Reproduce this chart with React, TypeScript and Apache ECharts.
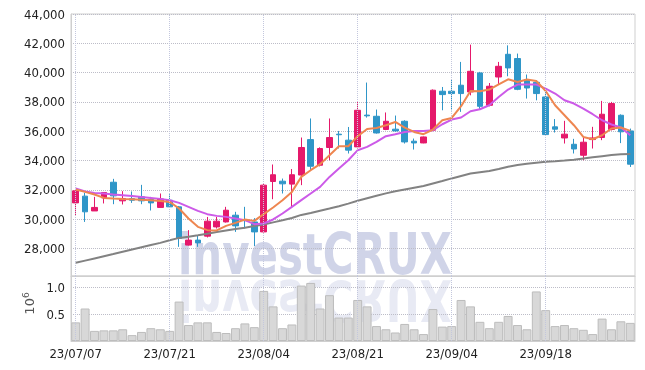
import React, { useEffect, useRef } from "react";
import * as echarts from "echarts";

const dates = [
  "23/07/07", "23/07/10", "23/07/11", "23/07/12", "23/07/13", "23/07/14", "23/07/17", "23/07/18", "23/07/19", "23/07/20",
  "23/07/21", "23/07/24", "23/07/25", "23/07/26", "23/07/27", "23/07/28", "23/07/31", "23/08/01", "23/08/02", "23/08/03",
  "23/08/04", "23/08/07", "23/08/08", "23/08/09", "23/08/10", "23/08/11", "23/08/14", "23/08/16", "23/08/17", "23/08/18",
  "23/08/21", "23/08/22", "23/08/23", "23/08/24", "23/08/25", "23/08/28", "23/08/29", "23/08/30", "23/08/31", "23/09/01",
  "23/09/04", "23/09/05", "23/09/06", "23/09/07", "23/09/08", "23/09/11", "23/09/12", "23/09/13", "23/09/14", "23/09/15",
  "23/09/18", "23/09/19", "23/09/20", "23/09/21", "23/09/22", "23/09/25", "23/09/26", "23/09/27", "23/10/04", "23/10/05",
];

const opens = [
  31110, 31570, 30560, 31450, 32520, 31250, 31400, 31520, 31340, 30800,
  31290, 30840, 28230, 28570, 28840, 29470, 29810, 30270, 29950, 29810,
  29130, 32570, 32590, 32390, 33010, 35430, 33680, 34890, 35800, 35390,
  34930, 37100, 37020, 36120, 36140, 36680, 35320, 35200, 36070, 38730,
  38730, 39140, 38680, 39980, 37770, 39700, 41250, 40960, 39530, 39340,
  38340, 36300, 35540, 35110, 34360, 35430, 35570, 36120, 37090, 36020,
];
const closes = [
  31930, 30500, 30800, 31820, 31590, 31410, 31290, 31250, 31110, 31380,
  30840, 28680, 28570, 28380, 29860, 29860, 30610, 29540, 29900, 29130,
  32320, 33030, 32410, 33030, 34890, 33610, 34820, 35570, 35760, 34710,
  37430, 37050, 35880, 36680, 36020, 35270, 35200, 35610, 38800, 38500,
  38570, 38570, 40090, 37700, 39070, 40430, 40320, 38860, 38950, 38570,
  35770, 36140, 35800, 34790, 35250, 35540, 37160, 37890, 35960, 33750,
];
const lows = [
  30270, 29810, 30560, 31070, 31020, 31000, 31110, 31020, 30590, 30790,
  30800, 28110, 28200, 28110, 28750, 29360, 29770, 29130, 29370, 28160,
  29100, 31360, 31750, 30840, 32320, 33340, 33600, 34020, 34820, 34480,
  34820, 36930, 35840, 36070, 35980, 35160, 34750, 35180, 36000, 37430,
  37430, 37320, 38450, 37500, 37700, 39190, 39750, 38800, 38230, 38110,
  35700, 35910, 35160, 34480, 34020, 34820, 35390, 36050, 35190, 33560,
];
const highs = [
  32050, 31790, 31520, 31850, 32750, 31910, 31890, 32340, 31520, 31750,
  31700, 30900, 29250, 28900, 30150, 30150, 30840, 30500, 30840, 30070,
  32400, 33730, 32770, 33420, 35570, 36870, 34900, 36870, 36020, 36290,
  38050, 39320, 37480, 37280, 37070, 36750, 35500, 35640, 38850, 39020,
  39530, 40730, 41910, 40050, 39290, 40730, 41860, 41300, 39870, 39480,
  38680, 36830, 36710, 35480, 35610, 36300, 38070, 38000, 37150, 36180,
];

const maShort = [
  32024, 31860, 31683, 31451, 31410, 31370, 31362, 31330, 31294, 31246,
  31178, 30728, 30046, 29473, 29248, 29230, 29541, 29746, 29978, 29882,
  30339, 30796, 31294, 31860, 32883, 33340, 33749, 34363, 34977, 34977,
  35659, 36157, 36225, 36409, 36634, 36252, 35952, 35795, 36116, 36750,
  36907, 37705, 38748, 38728, 38844, 39205, 39546, 39362, 39526, 39430,
  38748, 37773, 37091, 36409, 35611, 35454, 35727, 36184, 36252, 36020,
];
const maMid = [
  32092, 31887, 31792, 31751, 31683, 31635, 31587, 31519, 31451, 31383,
  31294, 31110, 30837, 30564, 30339, 30223, 30155, 30046, 29930, 29657,
  29705, 29978, 30387, 30837, 31294, 31751, 32201, 32883, 33456, 34022,
  34706, 34929, 35270, 35659, 35795, 35952, 36020, 36020, 36068, 36477,
  36798, 36934, 37364, 37500, 37773, 38339, 38844, 39185, 39185, 39185,
  38912, 38571, 38114, 37889, 37548, 37160, 36750, 36457, 36252, 35727,
];
const maLong = [
  27020, 27170, 27320, 27470, 27620, 27780, 27930, 28080, 28230, 28380,
  28560, 28720, 28800, 28900, 29010, 29120, 29220, 29320, 29420, 29530,
  29640, 29780, 29920, 30080, 30290, 30420, 30570, 30720, 30880, 31060,
  31250, 31430, 31600, 31760, 31900, 32020, 32140, 32260, 32430, 32600,
  32780, 32950, 33110, 33200, 33290, 33420, 33580, 33700, 33780, 33850,
  33910, 33950, 34000, 34060, 34140, 34220, 34300, 34380, 34430, 34440,
];

// volume in millions of shares (axis unit 10^6)
const volumes = [
  0.35, 0.61, 0.19, 0.20, 0.20, 0.22, 0.11, 0.17, 0.24, 0.22,
  0.19, 0.74, 0.30, 0.35, 0.35, 0.17, 0.15, 0.24, 0.33, 0.26,
  0.94, 0.65, 0.24, 0.31, 1.04, 1.09, 0.61, 0.86, 0.44, 0.44,
  0.77, 0.65, 0.28, 0.22, 0.16, 0.32, 0.22, 0.13, 0.60, 0.27,
  0.28, 0.77, 0.65, 0.36, 0.24, 0.36, 0.47, 0.30, 0.22, 0.93,
  0.58, 0.28, 0.30, 0.24, 0.21, 0.13, 0.42, 0.22, 0.37, 0.34,
];

const UP = "#e5196b";
const DOWN = "#2f96c8";
const FONT = '"DejaVu Sans Condensed", "Liberation Sans Narrow", "DejaVu Sans", sans-serif';

export default function App() {
  const ref = useRef<HTMLDivElement>(null);
  useEffect(() => {
    const chart = echarts.init(ref.current!, null, { renderer: "svg" });
    const candles = dates.map((_, i) => [opens[i], closes[i], lows[i], highs[i]]);
    const markDates = dates.filter((_, i) => i % 10 === 0);
    const vLines = {
      silent: true,
      symbol: ["none", "none"],
      label: { show: false },
      lineStyle: { type: "dotted", color: "#c3c7dd", width: 1 },
      data: markDates.map((d) => ({ xAxis: d })),
    };
    const wmText = {
      text: "investCRUX",
      font: 'bold 57px "DejaVu Sans"',
      textVerticalAlign: "bottom",
      textAlign: "left",
    };
    chart.setOption({
      animation: false,
      grid: [
        { left: 71, right: 10, top: 14, height: 262, show: true, borderColor: "#cfcfcf", borderWidth: 1 },
        { left: 71, right: 10, top: 276, height: 65, show: true, borderColor: "#cfcfcf", borderWidth: 1 },
      ],
      xAxis: [
        {
          type: "category", data: dates, gridIndex: 0, boundaryGap: true,
          axisLine: { show: true, lineStyle: { color: "#cfcfcf" } },
          axisTick: { show: false }, axisLabel: { show: false }, splitLine: { show: false },
        },
        {
          type: "category", data: dates, gridIndex: 1, boundaryGap: true,
          axisLine: { show: true, lineStyle: { color: "#cfcfcf" } },
          axisTick: { show: false }, splitLine: { show: false },
          axisLabel: { interval: 9, fontSize: 13, color: "#222", fontFamily: FONT, margin: 6 },
        },
      ],
      yAxis: [
        {
          type: "value", gridIndex: 0, min: 26120, max: 44000, splitNumber: 9, scale: true,
          axisLine: { show: true, lineStyle: { color: "#cfcfcf" } },
          axisTick: { show: false },
          axisLabel: {
            showMinLabel: false, fontSize: 13, color: "#222", fontFamily: FONT, margin: 6,
            formatter: (v: number) => v.toLocaleString("en-US"),
          },
          splitLine: { show: true, lineStyle: { type: "dotted", color: "#bdbdc8" } },
        },
        {
          type: "value", gridIndex: 1, min: 0, max: 1.22, interval: 0.5,
          axisLine: { show: true, lineStyle: { color: "#cfcfcf" } },
          axisTick: { show: false },
          axisLabel: {
            showMinLabel: false, showMaxLabel: false, fontSize: 13, color: "#222", fontFamily: FONT, margin: 6,
            formatter: (v: number) => v.toFixed(1),
          },
          splitLine: { show: true, lineStyle: { type: "dotted", color: "#bdbdc8" } },
          name: "{a|10}{b|6}",
          nameLocation: "middle",
          nameRotate: 90,
          nameGap: 31,
          nameTextStyle: {
            padding: [0, 0, 0, 10],
            rich: {
              a: { fontSize: 13, color: "#555", fontFamily: "DejaVu Sans", lineHeight: 14, verticalAlign: "bottom" },
              b: { fontSize: 9, color: "#555", fontFamily: "DejaVu Sans", lineHeight: 14, verticalAlign: "top" },
            },
          },
        },
      ],
      graphic: [
        {
          type: "group", x: 178, y: 283, z: 100, silent: true,
          children: [
            { type: "text", x: 0, y: 0, scaleX: 0.735, style: { ...wmText, fill: "rgba(150,160,205,0.45)" } },
          ],
        },
        {
          type: "group", x: 178, y: 271, scaleY: -1, z: 100, silent: true,
          children: [
            { type: "text", x: 0, y: 0, scaleX: 0.735, style: { ...wmText, fill: "rgba(150,160,205,0.22)" } },
          ],
        },
      ],
      series: [
        {
          type: "candlestick", xAxisIndex: 0, yAxisIndex: 0, data: candles, barWidth: 6,
          itemStyle: { color: UP, color0: DOWN, borderColor: UP, borderColor0: DOWN, borderWidth: 1 },
          markLine: vLines,
        },
        {
          type: "line", xAxisIndex: 0, yAxisIndex: 0, data: maLong, showSymbol: false,
          lineStyle: { color: "#828282", width: 2 }, z: 3,
        },
        {
          type: "line", xAxisIndex: 0, yAxisIndex: 0, data: maMid, showSymbol: false,
          lineStyle: { color: "#cc5ae8", width: 2 }, z: 3,
        },
        {
          type: "line", xAxisIndex: 0, yAxisIndex: 0, data: maShort, showSymbol: false,
          lineStyle: { color: "#ee8650", width: 2 }, z: 3,
        },
        {
          type: "bar", xAxisIndex: 1, yAxisIndex: 1, data: volumes, barCategoryGap: "5%",
          itemStyle: { color: "#d8d8d8", borderColor: "#bdbdbd", borderWidth: 1 },
          markLine: vLines,
        },
      ],
    });
    return () => chart.dispose();
  }, []);
  return <div ref={ref} style={{ position: "fixed", left: 0, top: 0, width: 645, height: 370 }} />;
}
